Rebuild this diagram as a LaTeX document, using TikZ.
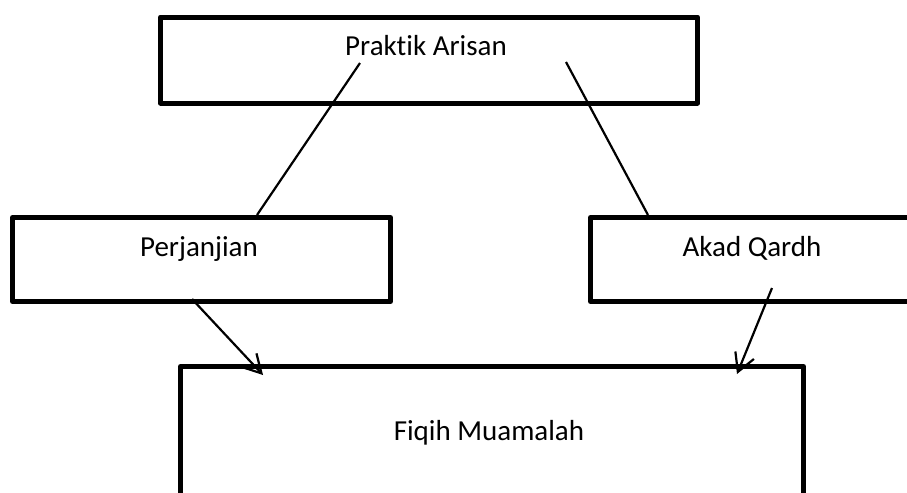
\documentclass[tikz,border=0pt]{standalone}
\usepackage{fontspec}
\setmainfont[Ligatures={NoCommon,NoContextual}]{Carlito}
\usetikzlibrary{arrows.meta}
\begin{document}
\begin{tikzpicture}
			[x=0.5pt, y=-0.5pt,
			kotak/.style = {shape=rectangle, draw, line width=2.5pt, line join=round, anchor=north west, inner sep=0pt},
			tulisan/.style = {anchor=base, inner sep=0pt, font=\fontsize{14.5}{17}\selectfont},
			garis/.style = {line width=1.1pt},
			panah/.style = {line width=1.1pt, -{Straight Barb[length=9pt, width=10pt, line width=1.1pt]}}]
			\clip (0,0) rectangle (907,493);
			\node[kotak, minimum width=268.5pt, minimum height=43pt] (praktik) at (158,14.5) {};
			\node[kotak, minimum width=189pt, minimum height=42pt] (perjanjian) at (10,215) {};
			\node[kotak, minimum width=171pt, minimum height=42pt] (akad) at (588,215) {};
			\node[kotak, minimum width=311.5pt, minimum height=80pt] (fiqih) at (178,364) {};
			\node[tulisan] (teksPraktik) at (426,55) {Praktik Arisan};
			\node[tulisan] (teksPerjanjian) at (199,256) {Perjanjian};
			\node[tulisan] (teksAkad) at (752,256) {Akad Qardh};
			\node[tulisan] (teksFiqih) at (489,440) {Fiqih Muamalah};
			\coordinate (kiriAtas) at (360,63);
			\coordinate (kiriBawah) at (257,215);
			\coordinate (kananAtas) at (566,62);
			\coordinate (kananBawah) at (648,215);
			\coordinate (panahKiri) at (192,299);
			\coordinate (ujungKiri) at (263,375);
			\coordinate (panahKanan) at (772,288);
			\coordinate (ujungKanan) at (737,374);
			\draw[garis] (kiriAtas) -- (kiriBawah);
			\draw[garis] (kananAtas) -- (kananBawah);
			\draw[panah] (panahKiri) -- (ujungKiri);
			\draw[panah] (panahKanan) -- (ujungKanan);
		\end{tikzpicture}
\end{document}
